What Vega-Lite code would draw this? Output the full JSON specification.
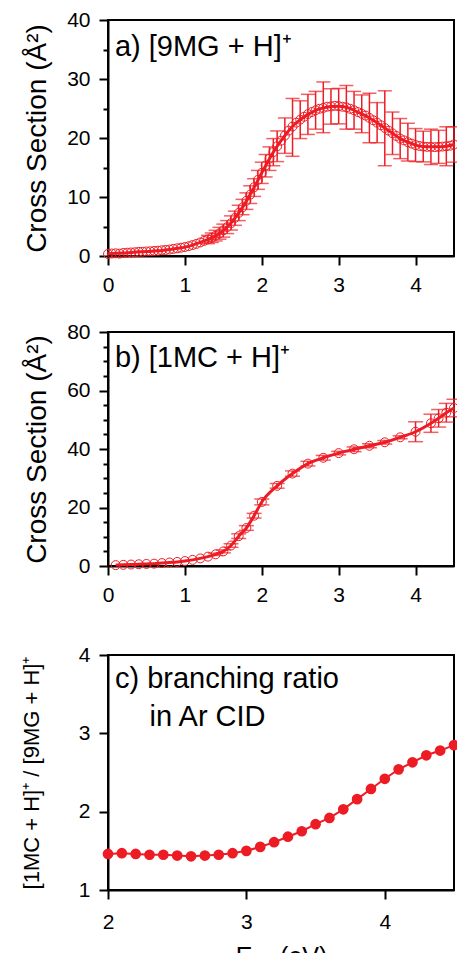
{
  "$schema": "https://vega.github.io/schema/vega-lite/v6.json",
  "padding": {"left": 19, "top": 8, "right": 0, "bottom": 0},
  "spacing": 37,
  "config": {
    "font": "Liberation Sans",
    "view": {"stroke": "black", "strokeWidth": 2},
    "axis": {
      "domainColor": "black", "domainWidth": 2, "tickColor": "black", "tickWidth": 2,
      "labelFontSize": 21, "labelColor": "black",
      "titleFontSize": 28, "titleFontWeight": "normal", "titleColor": "black",
      "grid": false, "labelFlush": false, "labelOverlap": false, "labelPadding": 9, "titlePadding": 15
    }
  },
  "datasets": {
    "a_pts": [
      {"x":0.00,"y":0.35},{"x":0.05,"y":0.42},{"x":0.10,"y":0.45},{"x":0.15,"y":0.40},{"x":0.20,"y":0.52},
      {"x":0.25,"y":0.56},{"x":0.30,"y":0.60},{"x":0.35,"y":0.63},{"x":0.40,"y":0.70},{"x":0.45,"y":0.72},
      {"x":0.50,"y":0.77},{"x":0.55,"y":0.80},{"x":0.60,"y":0.86},{"x":0.65,"y":0.90},{"x":0.70,"y":0.97},
      {"x":0.75,"y":1.02},{"x":0.80,"y":1.10},{"x":0.85,"y":1.21},{"x":0.90,"y":1.30},{"x":0.95,"y":1.41},
      {"x":1.00,"y":1.52},{"x":1.05,"y":1.66},{"x":1.10,"y":1.86},{"x":1.15,"y":2.05},{"x":1.20,"y":2.30},
      {"x":1.25,"y":2.56},
      {"x":1.30,"y":2.80,"lo":2.1,"hi":3.5},{"x":1.35,"y":3.12,"lo":2.3,"hi":3.9},
      {"x":1.40,"y":3.45,"lo":2.55,"hi":4.35},{"x":1.45,"y":3.85,"lo":2.85,"hi":4.85},
      {"x":1.50,"y":4.35,"lo":3.2,"hi":5.4},{"x":1.55,"y":4.90,"lo":3.8,"hi":6.0},
      {"x":1.60,"y":5.55,"lo":4.4,"hi":6.8},{"x":1.65,"y":6.45,"lo":5.2,"hi":7.6},
      {"x":1.70,"y":7.30,"lo":6.0,"hi":8.6},{"x":1.75,"y":8.25,"lo":7.0,"hi":9.6},
      {"x":1.80,"y":9.35,"lo":7.9,"hi":10.7},{"x":1.85,"y":10.40,"lo":8.9,"hi":11.9},
      {"x":1.90,"y":11.65,"lo":10.1,"hi":13.1},{"x":1.95,"y":12.90,"lo":11.3,"hi":14.5},
      {"x":2.00,"y":14.10,"lo":12.3,"hi":15.9},{"x":2.05,"y":15.35,"lo":13.4,"hi":17.2},
      {"x":2.10,"y":16.50,"lo":14.5,"hi":18.5},{"x":2.15,"y":17.60,"lo":15.3,"hi":19.9},
      {"x":2.20,"y":18.60,"lo":16.0,"hi":21.2},{"x":2.25,"y":19.55},
      {"x":2.30,"y":20.40,"lo":17.4,"hi":23.4},{"x":2.35,"y":21.25},
      {"x":2.40,"y":21.95,"lo":16.9,"hi":26.7},{"x":2.45,"y":22.60},
      {"x":2.50,"y":23.10,"lo":19.9,"hi":26.3},{"x":2.55,"y":23.60},
      {"x":2.60,"y":24.05,"lo":20.6,"hi":27.4},{"x":2.65,"y":24.40},
      {"x":2.70,"y":24.70,"lo":21.5,"hi":27.9},{"x":2.75,"y":24.95},
      {"x":2.80,"y":25.10,"lo":20.9,"hi":29.5},{"x":2.85,"y":25.30},
      {"x":2.90,"y":25.35,"lo":22.35,"hi":28.35},{"x":2.95,"y":25.45},
      {"x":3.00,"y":25.40,"lo":22.4,"hi":28.4},{"x":3.05,"y":25.30},
      {"x":3.10,"y":25.20,"lo":21.5,"hi":28.9},{"x":3.15,"y":24.95},
      {"x":3.20,"y":24.70,"lo":21.5,"hi":27.9},{"x":3.25,"y":24.40},
      {"x":3.30,"y":24.10,"lo":20.9,"hi":27.3},{"x":3.35,"y":23.80},
      {"x":3.40,"y":23.40,"lo":19.2,"hi":27.6},{"x":3.45,"y":23.00},
      {"x":3.50,"y":22.60,"lo":19.2,"hi":26.0},{"x":3.55,"y":22.15},
      {"x":3.60,"y":21.70,"lo":15.3,"hi":28.0},{"x":3.65,"y":21.25},
      {"x":3.70,"y":20.80,"lo":17.2,"hi":24.4},{"x":3.75,"y":20.35},
      {"x":3.80,"y":19.90,"lo":16.5,"hi":23.3},{"x":3.85,"y":19.60},
      {"x":3.90,"y":19.30,"lo":16.1,"hi":22.5},{"x":3.95,"y":19.05},
      {"x":4.00,"y":18.80,"lo":16.0,"hi":21.6},{"x":4.05,"y":18.65},
      {"x":4.10,"y":18.55,"lo":15.95,"hi":21.15},{"x":4.15,"y":18.50},
      {"x":4.20,"y":18.50,"lo":15.5,"hi":21.5},{"x":4.25,"y":18.45},
      {"x":4.30,"y":18.50,"lo":15.7,"hi":21.3},{"x":4.35,"y":18.55},
      {"x":4.40,"y":18.60,"lo":15.3,"hi":21.9},{"x":4.45,"y":18.70},
      {"x":4.50,"y":18.90,"lo":15.9,"hi":21.9}
    ],
    "a_fit": [
      {"x":0.0,"y":0.4},{"x":0.1,"y":0.45},{"x":0.2,"y":0.5},{"x":0.3,"y":0.6},{"x":0.4,"y":0.7},
      {"x":0.5,"y":0.75},{"x":0.6,"y":0.85},{"x":0.7,"y":0.95},{"x":0.8,"y":1.1},{"x":0.9,"y":1.3},
      {"x":1.0,"y":1.5},{"x":1.1,"y":1.85},{"x":1.2,"y":2.3},{"x":1.3,"y":2.8},{"x":1.4,"y":3.4},
      {"x":1.5,"y":4.3},{"x":1.6,"y":5.6},{"x":1.7,"y":7.3},{"x":1.8,"y":9.3},{"x":1.9,"y":11.6},
      {"x":2.0,"y":14.1},{"x":2.1,"y":16.5},{"x":2.2,"y":18.6},{"x":2.3,"y":20.4},{"x":2.4,"y":22.0},
      {"x":2.5,"y":23.1},{"x":2.6,"y":24.0},{"x":2.7,"y":24.7},{"x":2.8,"y":25.1},{"x":2.9,"y":25.35},
      {"x":3.0,"y":25.4},{"x":3.1,"y":25.2},{"x":3.2,"y":24.7},{"x":3.3,"y":24.1},{"x":3.4,"y":23.4},
      {"x":3.5,"y":22.6},{"x":3.6,"y":21.7},{"x":3.7,"y":20.8},{"x":3.8,"y":19.9},{"x":3.9,"y":19.3},
      {"x":4.0,"y":18.8},{"x":4.1,"y":18.55},{"x":4.2,"y":18.5},{"x":4.3,"y":18.5},{"x":4.4,"y":18.6},
      {"x":4.5,"y":18.9}
    ],
    "b_pts": [
      {"x":0.1,"y":0.3},{"x":0.2,"y":0.4},{"x":0.3,"y":0.5},{"x":0.4,"y":0.6},{"x":0.5,"y":0.7},
      {"x":0.6,"y":0.8},{"x":0.7,"y":1.0},{"x":0.8,"y":1.2},{"x":0.9,"y":1.4},{"x":1.0,"y":1.7},
      {"x":1.1,"y":2.1},{"x":1.2,"y":2.6},{"x":1.3,"y":3.2},
      {"x":1.4,"y":4.0,"lo":3.6,"hi":4.4},{"x":1.5,"y":5.0,"lo":4.5,"hi":5.5},
      {"x":1.6,"y":7.0,"lo":6.4,"hi":7.6},{"x":1.7,"y":10.2,"lo":9.4,"hi":11.0},
      {"x":1.8,"y":13.0,"lo":12.2,"hi":13.8},{"x":1.9,"y":17.2,"lo":16.4,"hi":18.0},
      {"x":2.0,"y":21.9,"lo":20.9,"hi":22.9},{"x":2.2,"y":27.4,"lo":26.6,"hi":28.2},
      {"x":2.4,"y":31.6,"lo":30.7,"hi":32.5},{"x":2.6,"y":35.0,"lo":34.2,"hi":35.8},
      {"x":2.8,"y":37.0,"lo":36.2,"hi":37.8},{"x":3.0,"y":38.6,"lo":38.0,"hi":39.2},
      {"x":3.2,"y":39.9,"lo":39.1,"hi":40.7},{"x":3.4,"y":41.1,"lo":40.4,"hi":41.8},
      {"x":3.6,"y":42.3,"lo":41.7,"hi":42.9},{"x":3.8,"y":44.0,"lo":43.5,"hi":44.5},
      {"x":4.0,"y":45.9,"lo":42.5,"hi":49.3},{"x":4.2,"y":48.8,"lo":45.7,"hi":51.9},
      {"x":4.3,"y":50.5,"lo":47.5,"hi":53.5},{"x":4.4,"y":52.4,"lo":49.2,"hi":55.6},
      {"x":4.5,"y":54.0,"lo":51.0,"hi":57.0}
    ],
    "c_pts": [
      {"x":2.0,"y":1.46},{"x":2.1,"y":1.47},{"x":2.2,"y":1.46},{"x":2.3,"y":1.45},{"x":2.4,"y":1.45},
      {"x":2.5,"y":1.44},{"x":2.6,"y":1.43},{"x":2.7,"y":1.44},{"x":2.8,"y":1.45},{"x":2.9,"y":1.47},
      {"x":3.0,"y":1.50},{"x":3.1,"y":1.55},{"x":3.2,"y":1.61},{"x":3.3,"y":1.68},{"x":3.4,"y":1.75},
      {"x":3.5,"y":1.84},{"x":3.6,"y":1.92},{"x":3.7,"y":2.03},{"x":3.8,"y":2.16},{"x":3.9,"y":2.29},
      {"x":4.0,"y":2.42},{"x":4.1,"y":2.54},{"x":4.2,"y":2.63},{"x":4.3,"y":2.72},{"x":4.4,"y":2.78},
      {"x":4.5,"y":2.85}
    ]
  },
  "vconcat": [
    {
      "spacing": 24,
      "vconcat": [
        {
          "width": 346, "height": 236,
          "layer": [
            {
              "data": {"name": "a_pts"},
              "mark": {"type": "point", "shape": "circle", "filled": false, "size": 80, "strokeWidth": 1, "color": "#ED1C24", "opacity": 1},
              "encoding": {
                "x": {"field": "x", "type": "quantitative", "scale": {"domain": [0, 4.5], "nice": false, "zero": false},
                      "axis": {"title": null, "tickCount": 23, "labelOverlap": false, "format": "d",
                               "labelExpr": "datum.value % 1 === 0 ? datum.label : ''",
                               "tickSize": {"condition": {"test": "datum.value % 1 === 0", "value": 9}, "value": 5}}},
                "y": {"field": "y", "type": "quantitative", "scale": {"domain": [0, 40], "nice": false},
                      "axis": {"title": "Cross Section (Å²)", "tickCount": 8, "labelOverlap": false, "format": "d",
                               "labelExpr": "datum.value % 10 === 0 ? datum.label : ''",
                               "tickSize": {"condition": {"test": "datum.value % 10 === 0", "value": 9}, "value": 5}}}
              }
            },
            {
              "data": {"name": "a_pts"},
              "transform": [{"filter": "isValid(datum.lo)"}],
              "mark": {"type": "errorbar", "color": "#ED1C24", "thickness": 1.5, "ticks": {"size": 14, "thickness": 1.5}},
              "encoding": {
                "x": {"field": "x", "type": "quantitative", "axis": {"title": null}},
                "y": {"field": "lo", "type": "quantitative", "axis": {"title": "Cross Section (Å²)"}},
                "y2": {"field": "hi"}
              }
            },
            {
              "data": {"name": "a_fit"},
              "mark": {"type": "line", "interpolate": "monotone", "color": "#ED1C24", "strokeWidth": 3},
              "encoding": {
                "x": {"field": "x", "type": "quantitative", "axis": {"title": null}},
                "y": {"field": "y", "type": "quantitative", "axis": {"title": "Cross Section (Å²)"}}
              }
            },
            {
              "data": {"values": [{"label": "a) [9MG + H]⁺"}]},
              "mark": {"type": "text", "align": "left", "baseline": "alphabetic", "fontSize": 29, "color": "black"},
              "encoding": {
                "x": {"datum": 0.09, "type": "quantitative"},
                "y": {"datum": 33.9, "type": "quantitative"},
                "text": {"field": "label"}
              }
            }
          ]
        },
        {
          "width": 346, "height": 234,
          "layer": [
            {
              "data": {"name": "b_pts"},
              "mark": {"type": "point", "shape": "circle", "filled": false, "size": 80, "strokeWidth": 1, "color": "#ED1C24", "opacity": 1},
              "encoding": {
                "x": {"field": "x", "type": "quantitative", "scale": {"domain": [0, 4.5], "nice": false, "zero": false},
                      "axis": {"title": null, "tickCount": 23, "labelOverlap": false, "format": "d",
                               "labelExpr": "datum.value % 1 === 0 ? datum.label : ''",
                               "tickSize": {"condition": {"test": "datum.value % 1 === 0", "value": 9}, "value": 5}}},
                "y": {"field": "y", "type": "quantitative", "scale": {"domain": [0, 80], "nice": false},
                      "axis": {"title": "Cross Section (Å²)", "tickCount": 16, "labelOverlap": false, "format": "d",
                               "labelExpr": "datum.value % 20 === 0 ? datum.label : ''",
                               "tickSize": {"condition": {"test": "datum.value % 20 === 0", "value": 9}, "value": 5}}}
              }
            },
            {
              "data": {"name": "b_pts"},
              "transform": [{"filter": "isValid(datum.lo)"}],
              "mark": {"type": "errorbar", "color": "#ED1C24", "thickness": 1.5, "ticks": {"size": 15, "thickness": 1.5}},
              "encoding": {
                "x": {"field": "x", "type": "quantitative", "axis": {"title": null}},
                "y": {"field": "lo", "type": "quantitative", "axis": {"title": "Cross Section (Å²)"}},
                "y2": {"field": "hi"}
              }
            },
            {
              "data": {"name": "b_pts"},
              "mark": {"type": "line", "interpolate": "monotone", "color": "#ED1C24", "strokeWidth": 3},
              "encoding": {
                "x": {"field": "x", "type": "quantitative", "axis": {"title": null}},
                "y": {"field": "y", "type": "quantitative", "axis": {"title": "Cross Section (Å²)"}}
              }
            },
            {
              "data": {"values": [{"label": "b) [1MC + H]⁺"}]},
              "mark": {"type": "text", "align": "left", "baseline": "alphabetic", "fontSize": 29, "color": "black"},
              "encoding": {
                "x": {"datum": 0.09, "type": "quantitative"},
                "y": {"datum": 68.2, "type": "quantitative"},
                "text": {"field": "label"}
              }
            }
          ]
        }
      ]
    },
    {
      "width": 346, "height": 235,
      "layer": [
        {
          "data": {"name": "c_pts"},
          "mark": {"type": "line", "color": "#ED1C24", "strokeWidth": 2},
          "encoding": {
            "x": {"field": "x", "type": "quantitative", "scale": {"domain": [2, 4.5], "nice": false, "zero": false},
                  "axis": {"title": "E\u00a0\u00a0\u00a0\u00a0(eV)", "titleFontSize": 25, "titlePadding": 12, "labelPadding": 12, "tickCount": 13, "labelOverlap": false, "format": "d",
                           "labelExpr": "datum.value % 1 === 0 ? datum.label : ''",
                           "tickSize": {"condition": {"test": "datum.value % 1 === 0", "value": 9}, "value": 5}}},
            "y": {"field": "y", "type": "quantitative", "scale": {"domain": [1, 4], "nice": false, "zero": false},
                  "axis": {"title": "[1MC + H]⁺ / [9MG + H]⁺", "titleFontSize": 22, "titlePadding": 35, "tickCount": 15, "labelOverlap": false, "format": "d",
                           "labelExpr": "datum.value % 1 === 0 ? datum.label : ''",
                           "tickSize": {"condition": {"test": "datum.value % 1 === 0", "value": 9}, "value": 5}}}
          }
        },
        {
          "data": {"name": "c_pts"},
          "mark": {"type": "circle", "size": 115, "color": "#ED1C24", "opacity": 1},
          "encoding": {
            "x": {"field": "x", "type": "quantitative", "axis": {"title": "E\u00a0\u00a0\u00a0\u00a0(eV)"}},
            "y": {"field": "y", "type": "quantitative", "axis": {"title": "[1MC + H]⁺ / [9MG + H]⁺"}}
          }
        },
        {
          "data": {"values": [{"label": "c) branching ratio"}]},
          "mark": {"type": "text", "align": "left", "baseline": "alphabetic", "fontSize": 29, "color": "black"},
          "encoding": {
            "x": {"datum": 2.05, "type": "quantitative"},
            "y": {"datum": 3.58, "type": "quantitative"},
            "text": {"field": "label"}
          }
        },
        {
          "data": {"values": [{"label": "in Ar CID"}]},
          "mark": {"type": "text", "align": "left", "baseline": "alphabetic", "fontSize": 29, "color": "black"},
          "encoding": {
            "x": {"datum": 2.30, "type": "quantitative"},
            "y": {"datum": 3.09, "type": "quantitative"},
            "text": {"field": "label"}
          }
        },
        {
          "data": {"values": [{"label": "col"}]},
          "mark": {"type": "text", "align": "left", "baseline": "alphabetic", "fontSize": 17, "color": "black"},
          "encoding": {
            "x": {"datum": 3.05, "type": "quantitative"},
            "y": {"datum": -0.01, "type": "quantitative"},
            "text": {"field": "label"}
          }
        }
      ]
    }
  ]
}
